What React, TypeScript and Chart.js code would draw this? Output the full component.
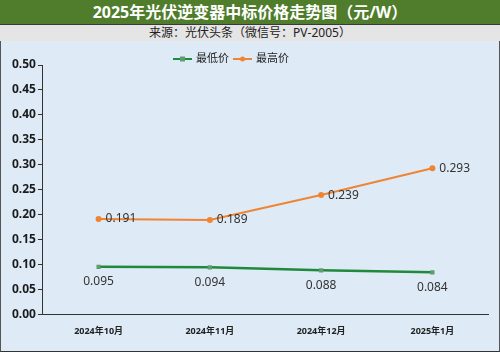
import React, { useEffect, useRef } from "react";
import { Chart, registerables } from "chart.js";

Chart.register(...registerables);

const categories = ["2024年10月", "2024年11月", "2024年12月", "2025年1月"];
const minPrice = [0.095, 0.094, 0.088, 0.084];
const maxPrice = [0.191, 0.189, 0.239, 0.293];
const seriesNames = ["最低价", "最高价"];
const yTicks = [0, 0.05, 0.1, 0.15, 0.2, 0.25, 0.3, 0.35, 0.4, 0.45, 0.5];

const GREEN = "#1f8a3b";
const GREEN_MARK = "#5f9c6e";
const ORANGE = "#ef8433";
const FONT = "'Noto Sans', 'Noto Sans CJK SC', sans-serif";

const labelsPlugin = {
  id: "valueLabels",
  afterDatasetsDraw(chart: any) {
    const ctx = chart.ctx;
    ctx.save();
    ctx.font = `12px ${FONT}`;
    ctx.fillStyle = "#333";
    chart.data.datasets.forEach((ds: any, i: number) => {
      const meta = chart.getDatasetMeta(i);
      meta.data.forEach((pt: any, j: number) => {
        const v = ds.data[j] as number;
        const txt = v.toFixed(3);
        if (i === 0) {
          ctx.textAlign = "center";
          ctx.textBaseline = "middle";
          ctx.fillText(txt, pt.x, pt.y + 15);
        } else {
          ctx.textAlign = "left";
          ctx.textBaseline = "middle";
          ctx.fillText(txt, pt.x + 7, pt.y);
        }
      });
    });
    ctx.restore();
  },
};

const legendPlugin = {
  id: "lineLegend",
  afterDraw(chart: any) {
    const ctx = chart.ctx;
    ctx.save();
    const y = 18;
    const items = [
      { name: seriesNames[0], color: GREEN, mark: GREEN_MARK, square: true, x: 172 },
      { name: seriesNames[1], color: ORANGE, mark: ORANGE, square: false, x: 232 },
    ];
    ctx.font = `11px ${FONT}`;
    ctx.textBaseline = "middle";
    ctx.textAlign = "left";
    items.forEach((it) => {
      ctx.strokeStyle = it.color;
      ctx.lineWidth = 2;
      ctx.beginPath();
      ctx.moveTo(it.x, y);
      ctx.lineTo(it.x + 19, y);
      ctx.stroke();
      ctx.fillStyle = it.mark;
      if (it.square) {
        ctx.fillRect(it.x + 7, y - 2.5, 5, 5);
      } else {
        ctx.beginPath();
        ctx.arc(it.x + 9.5, y, 2.5, 0, Math.PI * 2);
        ctx.fill();
      }
      ctx.fillStyle = "#222";
      ctx.fillText(it.name, it.x + 23, y);
    });
    ctx.restore();
  },
};

function ChartBox() {
  const ref = useRef<HTMLCanvasElement>(null);
  useEffect(() => {
    if (!ref.current) return;
    const chart = new Chart(ref.current, {
      type: "line",
      data: {
        labels: categories,
        datasets: [
          {
            label: seriesNames[0],
            data: minPrice,
            borderColor: GREEN,
            backgroundColor: GREEN_MARK,
            borderWidth: 2.5,
            pointStyle: "rect",
            pointRadius: 3,
            pointBorderWidth: 0,
            pointBackgroundColor: GREEN_MARK,
            tension: 0,
          },
          {
            label: seriesNames[1],
            data: maxPrice,
            borderColor: ORANGE,
            backgroundColor: ORANGE,
            borderWidth: 2,
            pointStyle: "circle",
            pointRadius: 3,
            pointBorderWidth: 0,
            pointBackgroundColor: ORANGE,
            tension: 0,
          },
        ],
      },
      options: {
        animation: false,
        responsive: false,
        maintainAspectRatio: false,
        layout: { padding: { top: 24, left: 9, right: 11, bottom: 10 } },
        plugins: {
          legend: { display: false },
          tooltip: { enabled: false },
          title: { display: false },
        },
        scales: {
          x: {
            offset: true,
            grid: { display: false },
            border: { display: true, color: "#333", width: 1 },
            ticks: {
              color: "#222",
              font: { family: FONT, size: 9, weight: "bold" },
              padding: 4,
              maxRotation: 0,
            },
          },
          y: {
            min: 0,
            max: 0.5,
            afterBuildTicks(axis: any) {
              axis.ticks = yTicks.map((v) => ({ value: v }));
            },
            grid: {
              display: true,
              drawOnChartArea: false,
              drawTicks: true,
              tickLength: 5,
              color: "#333",
            },
            border: { display: true, color: "#333", width: 1 },
            ticks: {
              color: "#1a1a1a",
              font: { family: FONT, size: 12, weight: "bold" },
              padding: 2,
              callback: (v: any) => Number(v).toFixed(2),
            },
          },
        },
      },
      plugins: [labelsPlugin, legendPlugin],
    });
    return () => chart.destroy();
  }, []);
  return <canvas ref={ref} width={498} height={310} style={{ display: "block" }} />;
}

export default function App() {
  useEffect(() => {
    document.body.style.margin = "0";
  }, []);
  return (
    <div style={{ width: 500, height: 352, position: "relative", overflow: "hidden", fontFamily: FONT }}>
      <div
        style={{
          height: 25,
          background: "#4f7d2b",
          color: "#fff",
          fontWeight: "bold",
          fontSize: 16,
          lineHeight: "25px",
          textAlign: "center",
          borderBottom: "1px solid #3a3a3a",
          boxSizing: "border-box",
        }}
      >
        2025年光伏逆变器中标价格走势图（元/W）
      </div>
      <div
        style={{
          height: 16,
          background: "#e5e5e5",
          color: "#222",
          fontSize: 12,
          lineHeight: "16px",
          textAlign: "center",
        }}
      >
        来源：光伏头条（微信号：PV-2005）
      </div>
      <div
        style={{
          height: 311,
          background: "#deeaf6",
          borderLeft: "1px solid #555",
          borderRight: "1px solid #555",
          borderBottom: "1px solid #333",
          boxSizing: "border-box",
        }}
      >
        <ChartBox />
      </div>
    </div>
  );
}
